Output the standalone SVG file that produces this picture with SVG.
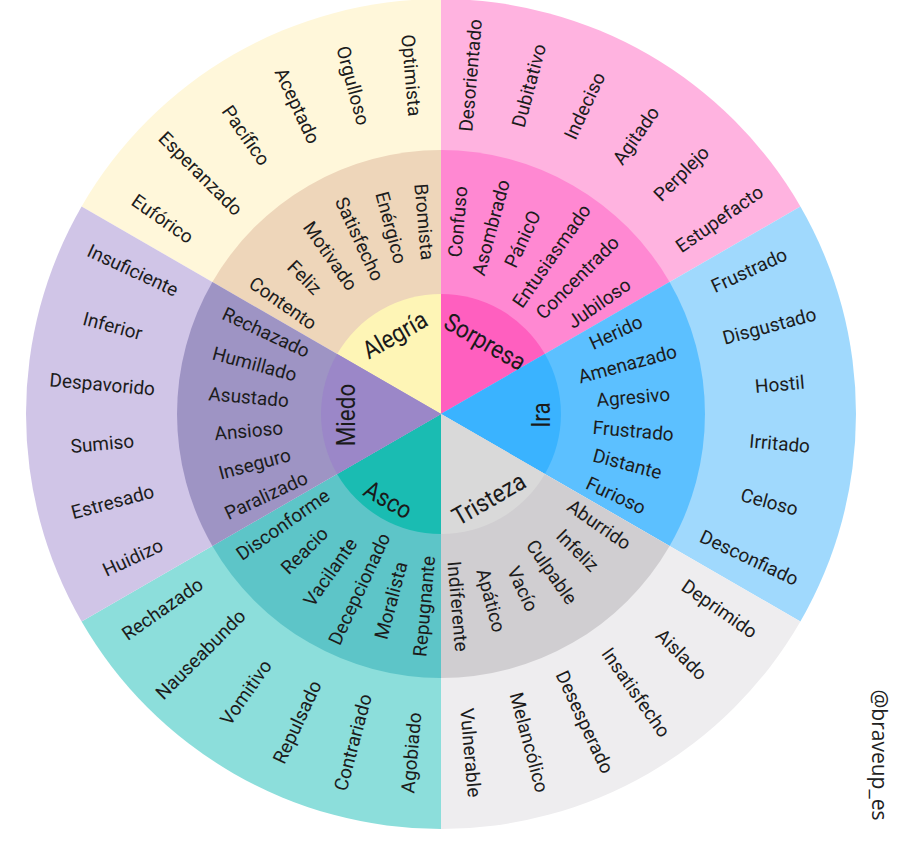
<svg xmlns="http://www.w3.org/2000/svg" width="912" height="842" viewBox="0 0 912 842">
<style>
.w{font-family:Roboto,"Noto Sans",sans-serif;font-size:19px;fill:#1c1c1c;text-anchor:middle;dominant-baseline:central}
.c{font-family:Roboto,"Noto Sans",sans-serif;font-size:25px;fill:#1a1a1a;text-anchor:middle;dominant-baseline:central}
.m{font-family:"Open Sans","Noto Sans",sans-serif;font-size:21px;fill:#222;text-anchor:middle;dominant-baseline:central}
</style>
<rect width="912" height="842" fill="#ffffff"/>

<g id="alegria">
<path d="M441 414 L81.6 206.5 A415 415 0 0 1 441 -1 Z" fill="#FFF7DA"/>
<path d="M441 414 L212.4 282 A264 264 0 0 1 441 150 Z" fill="#EED6BA"/>
<path d="M441 414 L337.1 354 A120 120 0 0 1 441 294 Z" fill="#FEF5B6"/>
<text class="c" transform="translate(395 335) rotate(-30) scale(0.9 1)">Alegría</text>
<g transform="translate(441 414)">
<text class="w" transform="rotate(215) translate(193 0) rotate(180)">Contento</text>
<text class="w" transform="rotate(225) translate(193 0) rotate(180)">Feliz</text>
<text class="w" transform="rotate(235) translate(193 0) rotate(180)">Motivado</text>
<text class="w" transform="rotate(245) translate(193 0) rotate(180)">Satisfecho</text>
<text class="w" transform="rotate(255) translate(193 0) rotate(180)">Enérgico</text>
<text class="w" transform="rotate(265) translate(193 0) rotate(180)">Bromista</text>
<text class="w" transform="rotate(215) translate(340 0) rotate(180)">Eufórico</text>
<text class="w" transform="rotate(225) translate(340 0) rotate(180)">Esperanzado</text>
<text class="w" transform="rotate(235) translate(340 0) rotate(180)">Pacífico</text>
<text class="w" transform="rotate(245) translate(340 0) rotate(180)">Aceptado</text>
<text class="w" transform="rotate(255) translate(340 0) rotate(180)">Orgulloso</text>
<text class="w" transform="rotate(265) translate(340 0) rotate(180)">Optimista</text>
</g>
</g>

<g id="sorpresa">
<path d="M441 414 L441 -1 A415 415 0 0 1 800.4 206.5 Z" fill="#FFB3E0"/>
<path d="M441 414 L441 150 A264 264 0 0 1 669.6 282 Z" fill="#FF88D2"/>
<path d="M441 414 L441 294 A120 120 0 0 1 544.9 354 Z" fill="#FF5FBF"/>
<text class="c" transform="translate(485 342) rotate(30) scale(0.9 1)">Sorpresa</text>
<g transform="translate(441 414)">
<text class="w" transform="rotate(-85) translate(193 0)">Confuso</text>
<text class="w" transform="rotate(-75) translate(193 0)">Asombrado</text>
<text class="w" transform="rotate(-65) translate(193 0)">PánicO</text>
<text class="w" transform="rotate(-55) translate(193 0)">Entusiasmado</text>
<text class="w" transform="rotate(-45) translate(193 0)">Concentrado</text>
<text class="w" transform="rotate(-35) translate(193 0)">Jubiloso</text>
<text class="w" transform="rotate(-85) translate(340 0)">Desorientado</text>
<text class="w" transform="rotate(-75) translate(340 0)">Dubitativo</text>
<text class="w" transform="rotate(-65) translate(340 0)">Indeciso</text>
<text class="w" transform="rotate(-55) translate(340 0)">Agitado</text>
<text class="w" transform="rotate(-45) translate(340 0)">Perplejo</text>
<text class="w" transform="rotate(-35) translate(340 0)">Estupefacto</text>
</g>
</g>

<g id="ira">
<path d="M441 414 L800.4 206.5 A415 415 0 0 1 800.4 621.5 Z" fill="#A0D9FD"/>
<path d="M441 414 L669.6 282 A264 264 0 0 1 669.6 546 Z" fill="#5CC0FF"/>
<path d="M441 414 L544.9 354 A120 120 0 0 1 544.9 474 Z" fill="#3AB3FF"/>
<text class="c" transform="translate(542 415) rotate(-90) scale(0.9 1)">Ira</text>
<g transform="translate(441 414)">
<text class="w" transform="rotate(-25) translate(193 0)">Herido</text>
<text class="w" transform="rotate(-15) translate(193 0)">Amenazado</text>
<text class="w" transform="rotate(-5) translate(193 0)">Agresivo</text>
<text class="w" transform="rotate(5) translate(193 0)">Frustrado</text>
<text class="w" transform="rotate(15) translate(193 0)">Distante</text>
<text class="w" transform="rotate(25) translate(193 0)">Furioso</text>
<text class="w" transform="rotate(-25) translate(340 0)">Frustrado</text>
<text class="w" transform="rotate(-15) translate(340 0)">Disgustado</text>
<text class="w" transform="rotate(-5) translate(340 0)">Hostil</text>
<text class="w" transform="rotate(5) translate(340 0)">Irritado</text>
<text class="w" transform="rotate(15) translate(340 0)">Celoso</text>
<text class="w" transform="rotate(25) translate(340 0)">Desconfiado</text>
</g>
</g>

<g id="tristeza">
<path d="M441 414 L800.4 621.5 A415 415 0 0 1 441 829 Z" fill="#EEEDEF"/>
<path d="M441 414 L669.6 546 A264 264 0 0 1 441 678 Z" fill="#D0CED1"/>
<path d="M441 414 L544.9 474 A120 120 0 0 1 441 534 Z" fill="#D9D9D9"/>
<text class="c" transform="translate(489 499) rotate(-30) scale(0.9 1)">Tristeza</text>
<g transform="translate(441 414)">
<text class="w" transform="rotate(35) translate(193 0)">Aburrido</text>
<text class="w" transform="rotate(45) translate(193 0)">Infeliz</text>
<text class="w" transform="rotate(55) translate(193 0)">Culpable</text>
<text class="w" transform="rotate(65) translate(193 0)">Vacío</text>
<text class="w" transform="rotate(75) translate(193 0)">Apático</text>
<text class="w" transform="rotate(85) translate(193 0)">Indiferente</text>
<text class="w" transform="rotate(35) translate(340 0)">Deprimido</text>
<text class="w" transform="rotate(45) translate(340 0)">Aislado</text>
<text class="w" transform="rotate(55) translate(340 0)">Insatisfecho</text>
<text class="w" transform="rotate(65) translate(340 0)">Desesperado</text>
<text class="w" transform="rotate(75) translate(340 0)">Melancólico</text>
<text class="w" transform="rotate(85) translate(340 0)">Vulnerable</text>
</g>
</g>

<g id="asco">
<path d="M441 414 L441 829 A415 415 0 0 1 81.6 621.5 Z" fill="#8CDEDB"/>
<path d="M441 414 L441 678 A264 264 0 0 1 212.4 546 Z" fill="#5DC5C8"/>
<path d="M441 414 L441 534 A120 120 0 0 1 337.1 474 Z" fill="#1ABCB2"/>
<text class="c" transform="translate(388 500) rotate(30) scale(0.9 1)">Asco</text>
<g transform="translate(441 414)">
<text class="w" transform="rotate(95) translate(193 0) rotate(180)">Repugnante</text>
<text class="w" transform="rotate(105) translate(193 0) rotate(180)">Moralista</text>
<text class="w" transform="rotate(115) translate(193 0) rotate(180)">Decepcionado</text>
<text class="w" transform="rotate(125) translate(193 0) rotate(180)">Vacilante</text>
<text class="w" transform="rotate(135) translate(193 0) rotate(180)">Reacio</text>
<text class="w" transform="rotate(145) translate(193 0) rotate(180)">Disconforme</text>
<text class="w" transform="rotate(95) translate(340 0) rotate(180)">Agobiado</text>
<text class="w" transform="rotate(105) translate(340 0) rotate(180)">Contrariado</text>
<text class="w" transform="rotate(115) translate(340 0) rotate(180)">Repulsado</text>
<text class="w" transform="rotate(125) translate(340 0) rotate(180)">Vomitivo</text>
<text class="w" transform="rotate(135) translate(340 0) rotate(180)">Nauseabundo</text>
<text class="w" transform="rotate(145) translate(340 0) rotate(180)">Rechazado</text>
</g>
</g>

<g id="miedo">
<path d="M441 414 L81.6 621.5 A415 415 0 0 1 81.6 206.5 Z" fill="#D0C5E7"/>
<path d="M441 414 L212.4 546 A264 264 0 0 1 212.4 282 Z" fill="#9E94C4"/>
<path d="M441 414 L337.1 474 A120 120 0 0 1 337.1 354 Z" fill="#9B87C8"/>
<text class="c" transform="translate(347 415) rotate(-90) scale(0.9 1)">Miedo</text>
<g transform="translate(441 414)">
<text class="w" transform="rotate(155) translate(193 0) rotate(180)">Paralizado</text>
<text class="w" transform="rotate(165) translate(193 0) rotate(180)">Inseguro</text>
<text class="w" transform="rotate(175) translate(193 0) rotate(180)">Ansioso</text>
<text class="w" transform="rotate(185) translate(193 0) rotate(180)">Asustado</text>
<text class="w" transform="rotate(195) translate(193 0) rotate(180)">Humillado</text>
<text class="w" transform="rotate(205) translate(193 0) rotate(180)">Rechazado</text>
<text class="w" transform="rotate(155) translate(340 0) rotate(180)">Huidizo</text>
<text class="w" transform="rotate(165) translate(340 0) rotate(180)">Estresado</text>
<text class="w" transform="rotate(175) translate(340 0) rotate(180)">Sumiso</text>
<text class="w" transform="rotate(185) translate(340 0) rotate(180)">Despavorido</text>
<text class="w" transform="rotate(195) translate(340 0) rotate(180)">Inferior</text>
<text class="w" transform="rotate(205) translate(340 0) rotate(180)">Insuficiente</text>
</g>
</g>

<g id="credit">
<text class="m" transform="translate(880 755) rotate(90)">@braveup_es</text>
</g>
</svg>
